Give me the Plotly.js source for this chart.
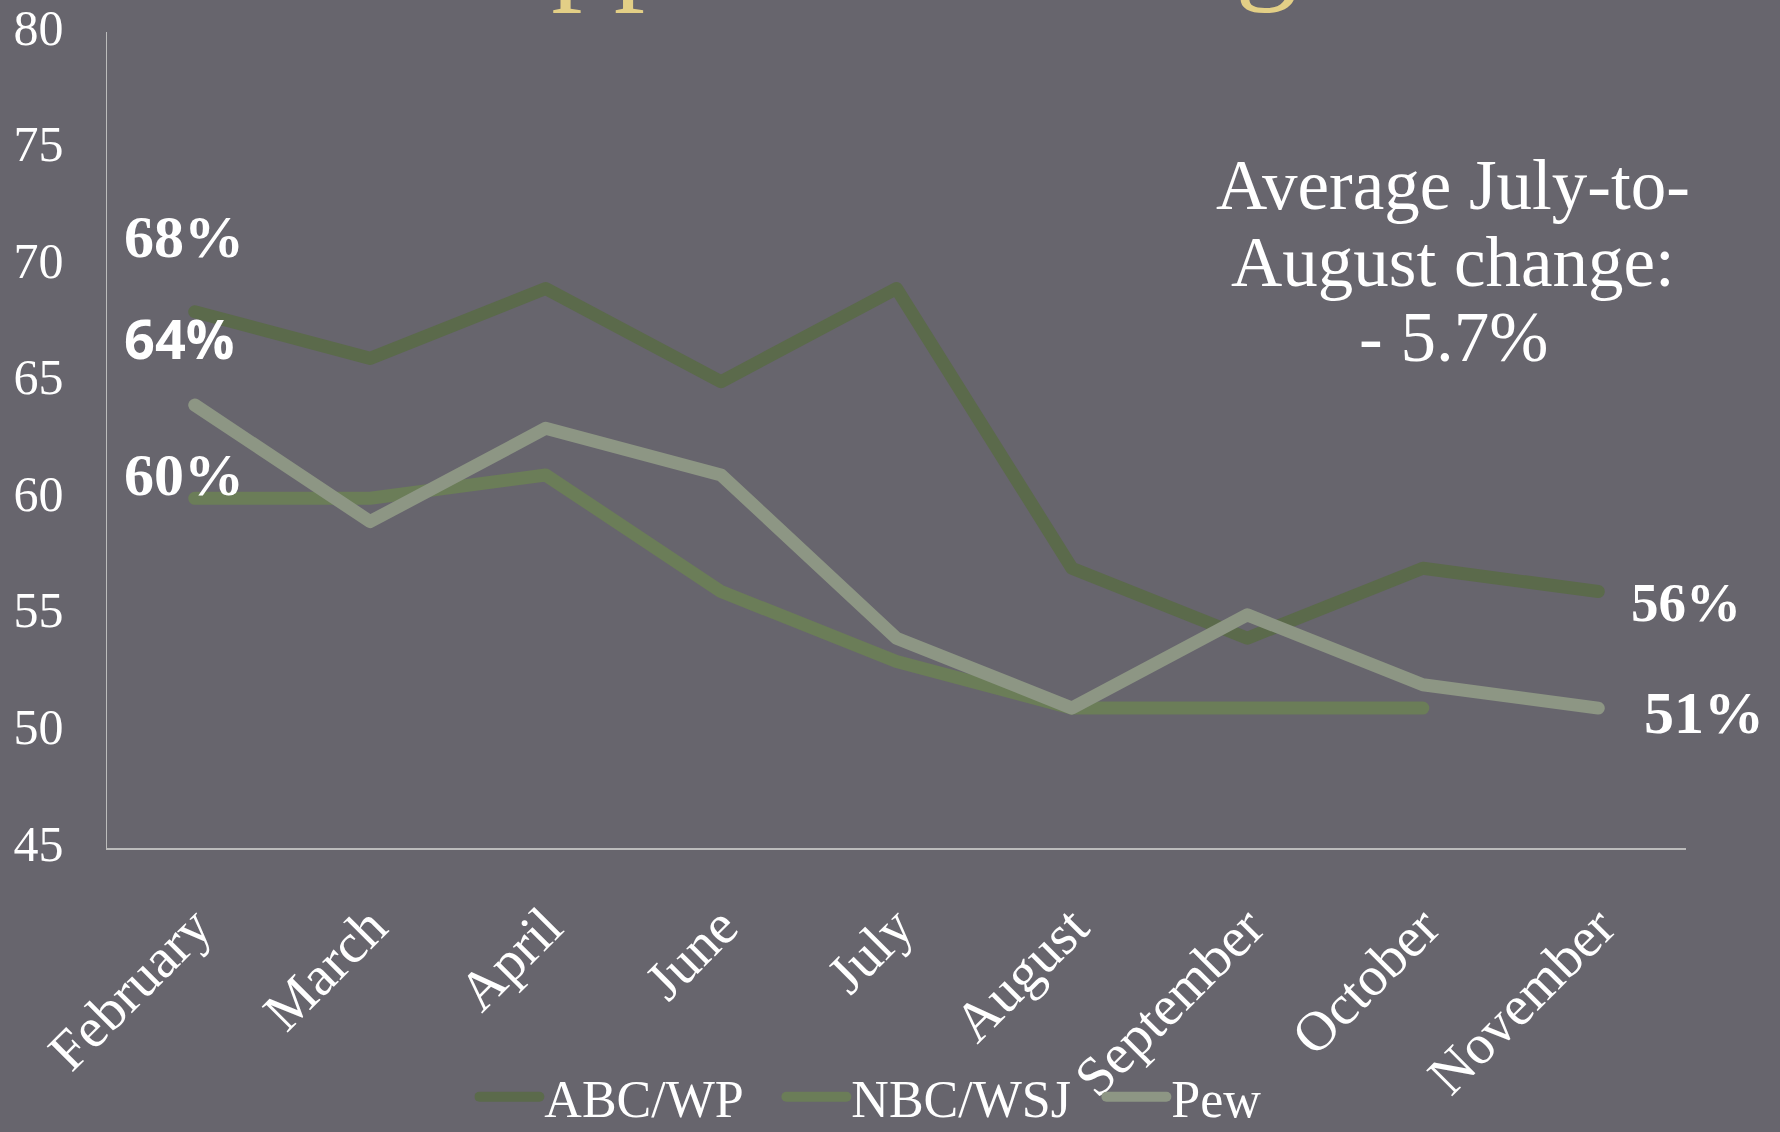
<!DOCTYPE html>
<html>
<head>
<meta charset="utf-8">
<script src="https://cdn.plot.ly/plotly-3.0.1.min.js"></script>
<style>
  html, body { margin: 0; padding: 0; background: #67656d; }
  #chart { width: 1780px; height: 1132px; }
  #chart .js-line { stroke-linecap: round; stroke-linejoin: round; }
</style>
</head>
<body>
<div id="chart"></div>
<script>
const months = ["February", "March", "April", "June", "July", "August", "September", "October", "November"];
const abcWp  = [68, 66, 69, 65, 69, 57, 54, 57, 56];
const nbcWsj = [60, 60, 61, 56, 53, 51, 51, 51, null];
const pew    = [64, 59, 63, 61, 54, 51, 55, 52, 51];
const seriesNames = ["ABC/WP", "NBC/WSJ", "Pew"];
const yTicks = [45, 50, 55, 60, 65, 70, 75, 80];

const serif = "Liberation Serif, Times New Roman, serif";
const colors = ["#5b6a4b", "#6b7d58", "#8d9684"];
const legendWidths = [232, 245, 150];

const traces = [abcWp, nbcWsj, pew].map((vals, i) => ({
  type: "scatter",
  mode: "lines",
  name: seriesNames[i],
  x: months,
  y: vals,
  line: { color: colors[i], width: 13 },
  connectgaps: false,
  legendwidth: legendWidths[i],
  hoverinfo: "skip"
}));

const white = "#ffffff";
const noteFont = { family: serif, size: 71, color: white };
const annotations = [
  { text: "Approval Rating", xref: "paper", yref: "paper", x: 0.2231, y: 1.0205, xanchor: "left", yanchor: "bottom",
    showarrow: false, font: { family: serif, size: 125, color: "#e3cf86" } },
  { text: "68%", xref: "paper", yref: "paper", x: 0.0094, y: 0.7486, xanchor: "left", yanchor: "middle",
    showarrow: false, font: { family: serif, size: 60, color: white, weight: "bold" } },
  { text: "64%", xref: "paper", yref: "paper", x: 0.0094, y: 0.6249, xanchor: "left", yanchor: "middle",
    showarrow: false, font: { family: "Open Sans, sans-serif", size: 54, color: white, weight: "bold" } },
  { text: "60%", xref: "paper", yref: "paper", x: 0.0094, y: 0.457, xanchor: "left", yanchor: "middle",
    showarrow: false, font: { family: serif, size: 60, color: white, weight: "bold" } },
  { text: "56%", xref: "paper", yref: "paper", x: 0.964, y: 0.3014, xanchor: "left", yanchor: "middle",
    showarrow: false, font: { family: serif, size: 55, color: white, weight: "bold" } },
  { text: "51%", xref: "paper", yref: "paper", x: 0.972, y: 0.1654, xanchor: "left", yanchor: "middle",
    showarrow: false, font: { family: serif, size: 60, color: white, weight: "bold" } },
  { text: "Average July-to-", xref: "paper", yref: "paper", x: 0.8526, y: 0.8123, xanchor: "center", yanchor: "middle",
    showarrow: false, font: noteFont },
  { text: "August change:", xref: "paper", yref: "paper", x: 0.8526, y: 0.718, xanchor: "center", yanchor: "middle",
    showarrow: false, font: noteFont },
  { text: "- 5.7%", xref: "paper", yref: "paper", x: 0.8526, y: 0.626, xanchor: "center", yanchor: "middle",
    showarrow: false, font: noteFont }
];

const layout = {
  width: 1780,
  height: 1132,
  paper_bgcolor: "#67656d",
  plot_bgcolor: "#67656d",
  margin: { l: 107, r: 94, t: 32, b: 284 },
  font: { family: serif, color: white },
  showlegend: true,
  legend: {
    orientation: "h",
    xref: "container", yref: "container",
    x: 0.2665, y: 0.031, xanchor: "left", yanchor: "middle",
    itemwidth: 60,
    font: { family: serif, size: 52, color: white },
    bgcolor: "rgba(0,0,0,0)"
  },
  xaxis: {
    type: "category",
    range: [-0.5, 8.5],
    showgrid: false,
    zeroline: false,
    showline: true,
    linecolor: "#bcbcbc",
    linewidth: 1.5,
    ticks: "outside",
    ticklen: 22,
    tickcolor: "rgba(0,0,0,0)",
    tickangle: -45,
    tickfont: { family: serif, size: 56, color: white },
    fixedrange: true
  },
  yaxis: {
    range: [45, 80],
    tickvals: yTicks,
    ticktext: yTicks.map(String),
    showgrid: false,
    zeroline: false,
    showline: true,
    linecolor: "#bcbcbc",
    linewidth: 1.5,
    ticks: "outside",
    ticklen: 32,
    tickcolor: "rgba(0,0,0,0)",
    ticklabelshift: -5,
    ticklabeloverflow: "allow",
    tickfont: { family: serif, size: 50, color: white },
    fixedrange: true
  },
  annotations: annotations
};

Plotly.newPlot("chart", traces, layout, { displayModeBar: false, staticPlot: true });
</script>
</body>
</html>
